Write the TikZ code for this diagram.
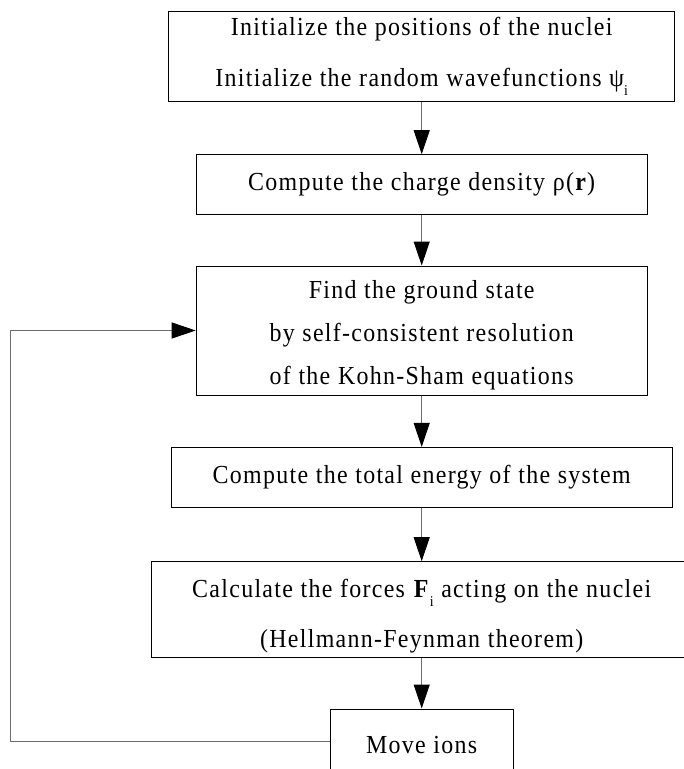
\documentclass[tikz,border=0pt]{standalone}
\usepackage{fontspec}
\setmainfont{Liberation Serif}[FakeStretch=0.92,LetterSpace=5,WordSpace={1.05,1,1}]
\usetikzlibrary{arrows.meta}
\definecolor{connc}{RGB}{110,110,110}
\newcommand{\lowsub}[1]{\raisebox{-9pt}{\fontsize{15}{15}\selectfont #1}}
\begin{document}
\begin{tikzpicture}[x=1pt,y=-1pt,
  box/.style={draw=black, line width=1pt, inner sep=0pt, align=center},
  conn/.style={draw=connc, line width=1pt, -{Triangle[length=24pt,width=16pt,color=black]}},
  lbl/.style={font=\fontsize{26}{#1}\selectfont}]
\useasboundingbox (0,0) rectangle (684,769);
\clip (0,0) rectangle (684,769);
\node[box, lbl=51, minimum width=506pt, minimum height=90.7pt] (init) at (421.7,56.4)
  {Initialize the positions of the nuclei\\Initialize the random wavefunctions ψ\lowsub{i}};
\node[box, lbl=28, minimum width=451pt, minimum height=59.6pt] (rho) at (421.7,184.5)
  {Compute the charge density ρ(\textbf{r})};
\node[box, lbl=43, minimum width=451pt, minimum height=129pt] (gs) at (421.7,330.5)
  {\rule{0pt}{28pt}Find the ground state\\by self-consistent resolution\\of the Kohn-Sham equations};
\node[box, lbl=28, minimum width=501pt, minimum height=60pt] (etot) at (421.7,477.4)
  {Compute the total energy of the system};
\node[box, lbl=50, minimum width=540pt, minimum height=95.6pt] (force) at (421.7,609.5)
  {\rule{0pt}{32pt}Calculate the forces \textbf{F}\lowsub{i} acting on the nuclei\\(Hellmann-Feynman theorem)};
\node[box, lbl=28, minimum width=183pt, minimum height=72pt] (move) at (421.7,745)
  {Move ions};
\coordinate (loopc) at (10,330.5);
\draw[conn] (init) -- (rho);
\draw[conn] (rho) -- (gs);
\draw[conn] (gs) -- (etot);
\draw[conn] (etot) -- (force);
\draw[conn] (force) -- (move);
\draw[conn] ([yshift=4pt]move.west) -| (loopc) -- (gs.west);
\end{tikzpicture}
\end{document}
